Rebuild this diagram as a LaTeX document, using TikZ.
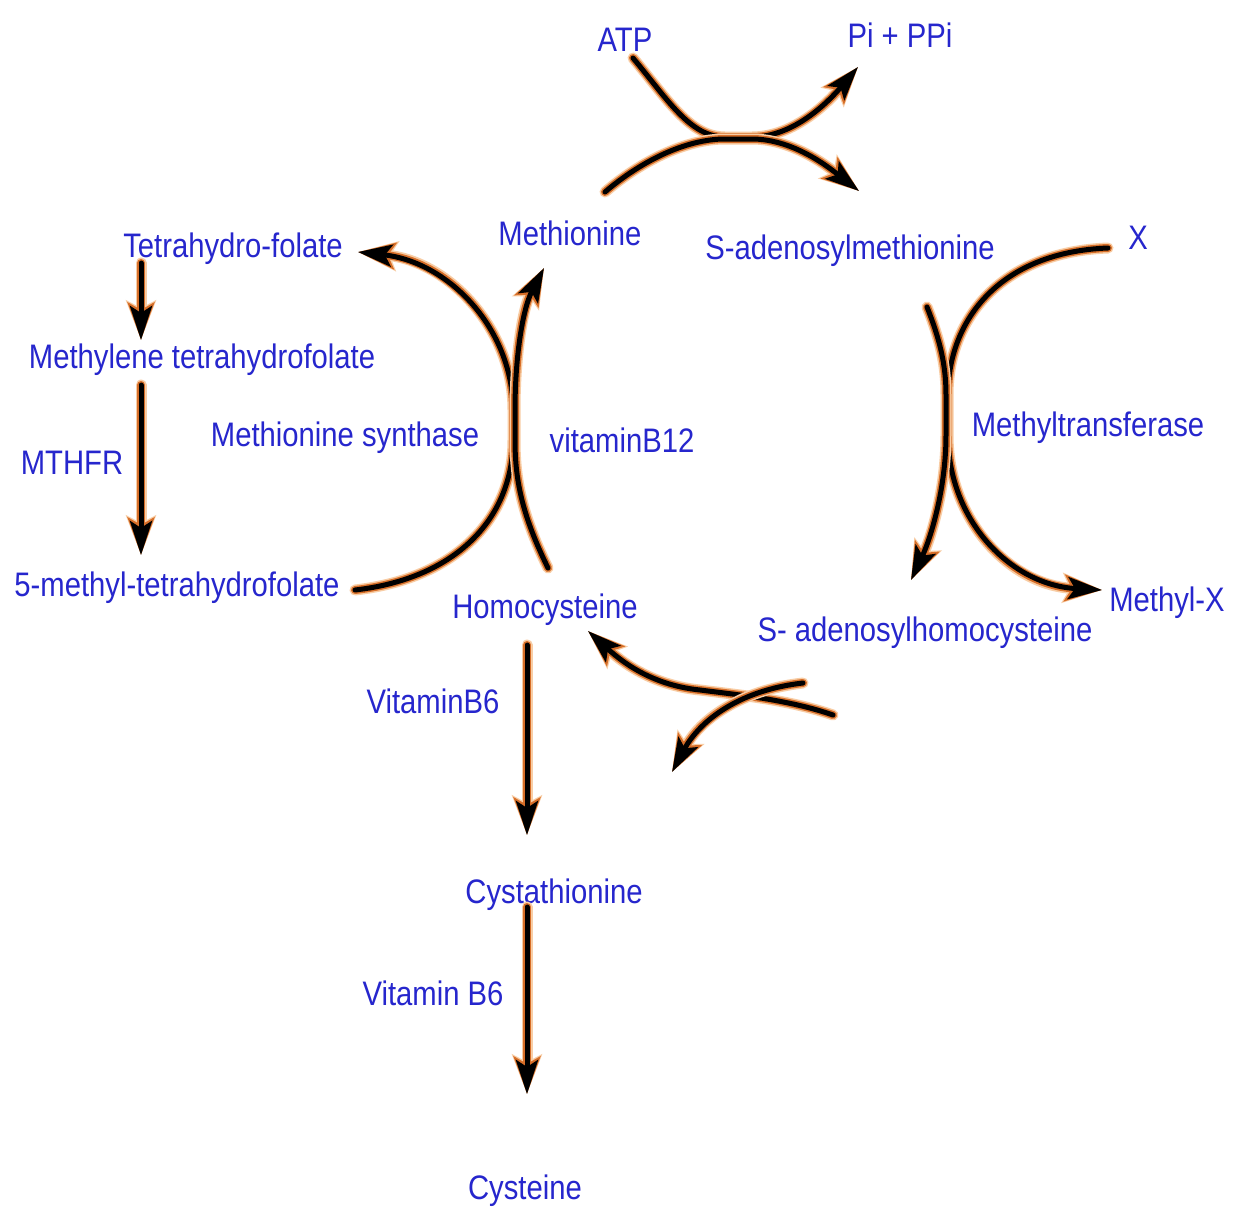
\documentclass[tikz,border=0pt]{standalone}
\usepackage{fontspec}
\setmainfont{Liberation Sans}[FakeStretch=0.86]
\usetikzlibrary{arrows.meta}
\definecolor{txtblue}{RGB}{38,38,205}
\definecolor{glow}{RGB}{215,110,40}
\definecolor{glowlight}{RGB}{248,205,165}
\tikzset{
  lbl/.style={text=txtblue, font=\fontsize{34}{40}\selectfont, inner sep=0pt, yshift=-3pt},
  rxnarr/.style={line width=5pt, draw=black, line cap=round, line join=round,
    -{Stealth[length=34pt,width=22pt,inset=7pt]},
    preaction={draw=glowlight, line width=11pt, line cap=round, line join=round,
      -{Stealth[length=39pt,width=29pt,inset=7pt]}},
    preaction={draw=glow, line width=8pt, line cap=round, line join=round,
      -{Stealth[length=37pt,width=26pt,inset=7pt]}}},
}
\begin{document}
\begin{tikzpicture}[x=1pt,y=-1pt]
\useasboundingbox[fill=white] (0,0) rectangle (1240,1211);

% labels
\node[lbl] (atp) at (625,37) {ATP};
\node[lbl] (pi) at (900,32) {Pi + PPi};
\node[lbl] (met) at (570,230) {Methionine};
\node[lbl] (sam) at (850,248) {S-adenosylmethionine};
\node[lbl] (x) at (1138,235) {X};
\node[lbl] (thf) at (233,246) {Tetrahydro-folate};
\node[lbl] (mthf) at (202,357) {Methylene tetrahydrofolate};
\node[lbl] (mthfr) at (72,460) {MTHFR};
\node[lbl] (ms) at (345,435) {Methionine synthase};
\node[lbl] (b12) at (622,437) {vitaminB12};
\node[lbl] (mt) at (1088,425) {Methyltransferase};
\node[lbl] (fmthf) at (177,585) {5-methyl-tetrahydrofolate};
\node[lbl] (hcy) at (545,607) {Homocysteine};
\node[lbl] (sah) at (925,630) {S- adenosylhomocysteine};
\node[lbl] (mx) at (1167,600) {Methyl-X};
\node[lbl] (b6a) at (433,698) {VitaminB6};
\node[lbl] (cth) at (554,892) {Cystathionine};
\node[lbl] (b6b) at (433,990) {Vitamin B6};
\node[lbl] (cys) at (525,1188) {Cysteine};

% connector end points
\coordinate (atpS) at (633,58);
\coordinate (piE) at (858,67);
\coordinate (metS) at (605,192);
\coordinate (samE) at (859,191);
\coordinate (fmS) at (355,590);
\coordinate (thfE) at (358,252);
\coordinate (hcyS) at (548,568);
\coordinate (metE) at (544,268);
\coordinate (xS) at (1108,248);
\coordinate (mxE) at (1102,590);
\coordinate (samS) at (927,307);
\coordinate (sahE) at (911,580);
\coordinate (sahS) at (833,715);
\coordinate (hcyE) at (588,631);
\coordinate (sahS2) at (803,683);
\coordinate (sahE2) at (672,772);
\coordinate (thfS) at (141,263);
\coordinate (mthfE) at (141,340);
\coordinate (mthfS) at (141,385);
\coordinate (fmE) at (141,555);
\coordinate (hcyD) at (527,645);
\coordinate (cthE) at (527,835);
\coordinate (cthS) at (527,907);
\coordinate (cysE) at (527,1094);

% ATP -> SAM reaction
\draw[rxnarr] (atpS) .. controls (668,100) and (690,137) .. (725,137) -- (752,137)
   .. controls (795,137) and (830,100) .. (piE);
\draw[rxnarr] (metS) .. controls (640,162) and (685,139) .. (725,139) -- (752,139)
   .. controls (795,139) and (832,170) .. (samE);

% Methionine synthase
\draw[rxnarr] (fmS) .. controls (460,578) and (513,515) .. (513,440) -- (513,410)
   .. controls (513,330) and (450,262) .. (thfE);
\draw[rxnarr] (hcyS) .. controls (522,515) and (515,480) .. (515,440) -- (515,410)
   .. controls (515,360) and (522,310) .. (metE);

% Methyltransferase
\draw[rxnarr] (xS) .. controls (1000,252) and (948,320) .. (948,395) -- (948,435)
   .. controls (948,520) and (1010,585) .. (mxE);
\draw[rxnarr] (samS) .. controls (940,340) and (946,365) .. (946,395) -- (946,435)
   .. controls (946,490) and (930,540) .. (sahE);

% SAH -> Homocysteine
\draw[rxnarr] (sahS) .. controls (790,700) and (740,695) .. (700,690)
   .. controls (650,685) and (620,660) .. (hcyE);
\draw[rxnarr] (sahS2) .. controls (740,690) and (700,720) .. (sahE2);

% straight arrows
\draw[rxnarr] (thfS) -- (mthfE);
\draw[rxnarr] (mthfS) -- (fmE);
\draw[rxnarr] (hcyD) -- (cthE);
\draw[rxnarr] (cthS) -- (cysE);
\end{tikzpicture}
\end{document}
